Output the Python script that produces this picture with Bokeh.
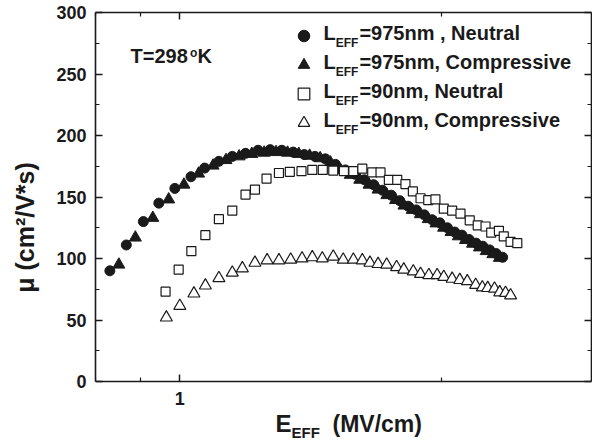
import math
from bokeh.plotting import figure
from bokeh.models import (LogAxis, LinearAxis, FixedTicker, Range1d, Label,
                          Legend, LegendItem)
from bokeh.embed import file_html
from bokeh.resources import INLINE

# ---------------- data ----------------
e_975_neutral = [0.831, 0.868, 0.908, 0.946, 0.987, 1.030, 1.068, 1.109, 1.149, 1.190,
                 1.23, 1.27, 1.31, 1.35, 1.39, 1.43, 1.47, 1.51, 1.55, 1.59,
                 1.63, 1.67, 1.71, 1.75, 1.79, 1.83, 1.87, 1.91, 1.95, 1.99,
                 2.03, 2.07, 2.11, 2.15, 2.19, 2.23, 2.27, 2.31, 2.35]
mu_975_neutral = [90, 111, 130, 145, 157, 166.5, 173.5, 179, 183, 185.5,
                  188, 188.5, 188, 186.5, 184.5, 183, 181, 176.5, 172, 168.5,
                  164, 160, 155.5, 151.5, 147, 142.5, 139.5, 135.5, 131.5, 129,
                  125, 121.5, 119, 115.5, 112.5, 110, 107, 104, 101]

e_975_comp = [0.851, 0.889, 0.931, 0.971, 1.011, 1.051, 1.092, 1.13, 1.17, 1.21,
              1.25, 1.29, 1.33, 1.37, 1.41, 1.45, 1.49, 1.53, 1.57, 1.61,
              1.65, 1.69, 1.73, 1.77, 1.81, 1.85, 1.89, 1.93, 1.97, 2.01,
              2.05, 2.09, 2.13, 2.17, 2.21, 2.25, 2.29, 2.33]
mu_975_comp = [95, 117, 133, 148, 160, 169, 175.5, 180, 183, 185,
               186, 186.5, 186, 185, 183.5, 181.5, 178, 172, 168, 164,
               160, 156, 151.5, 147.5, 143, 139.5, 136, 132, 128.5, 125,
               121.5, 118, 115, 112, 109, 106, 103.5, 100.5]

e_90_neutral = [0.963, 0.997, 1.031, 1.070, 1.109, 1.149, 1.190, 1.220, 1.258, 1.300,
                1.338, 1.380, 1.420, 1.460, 1.501, 1.544, 1.583, 1.621, 1.664, 1.701,
                1.739, 1.778, 1.817, 1.853, 1.891, 1.930, 1.967, 2.011, 2.056, 2.102,
                2.154, 2.200, 2.246, 2.280, 2.327, 2.357, 2.400, 2.443]
mu_90_neutral = [73, 91, 106, 119, 132, 139, 152, 156, 165, 169.5,
                 170.5, 171, 172, 172, 171.5, 171, 171, 173, 170, 170,
                 164, 164, 160.5, 154.5, 149, 147.5, 148, 140.5, 139, 136.5,
                 131, 127, 126, 121, 122.5, 118, 113.5, 112.5]

e_90_comp = [0.965, 1.000, 1.038, 1.070, 1.109, 1.149, 1.180, 1.220, 1.260, 1.300,
             1.341, 1.382, 1.420, 1.458, 1.501, 1.541, 1.583, 1.621, 1.654, 1.690,
             1.729, 1.775, 1.809, 1.855, 1.891, 1.933, 1.976, 2.011, 2.056, 2.098,
             2.140, 2.188, 2.227, 2.259, 2.300, 2.332, 2.368, 2.400]
mu_90_comp = [52, 61.5, 71.5, 78, 84, 88.5, 92, 96.5, 98.5, 98.5,
              99, 100, 101, 100, 101.5, 99, 99, 98.5, 96.5, 95.5,
              95, 93, 91, 89.5, 87.5, 86.5, 86.5, 85, 83.5, 82.5,
              81.5, 78.5, 76.5, 76, 75.5, 72.5, 72, 70]

series_names = ["=975nm , Neutral", "=975nm, Compressive", "=90nm, Neutral", "=90nm, Compressive"]
y_major_ticks = [0, 50, 100, 150, 200, 250, 300]
y_minor_ticks = [25, 75, 125, 175, 225, 275]
x_major_ticks = [1]
x_minor_ticks = [0.8, 0.9, 2, 3]
x_tick_labels = {1: "1"}
temperature_text = ["T=298", "o", "K"]
x_title = ["E", "EFF", "(MV/cm)"]
y_title = "μ (cm²/V*s)"

# ---------------- layout ----------------
W, H = 592, 442
BL, BR, BT = 95, 1, 12
AXIS_Y = 381                 # picture row of the x axis (mu = 0)
FW = W - BL - BR
FH = H - BT                  # frame reaches the bottom; x axis drawn at mu = 0
X0 = 0.8
DECADE = 870.0
X1 = 10 ** (math.log10(X0) + FW / DECADE)
Y1 = 300
PX_PER_UNIT = (AXIS_Y - BT) / Y1
Y0 = -(H - AXIS_Y) / PX_PER_UNIT
FONT = "Liberation Sans"
INK = "#1a1a1a"
BASELINE_FIX = 0.47          # renderer places alphabetic baseline lower by ~0.47 em

def dx(px):  # picture px -> data x
    return 10 ** (math.log10(X0) + (px - BL) / DECADE)

def dy(py):  # picture px -> data y
    return Y1 - (py - BT) / PX_PER_UNIT

p = figure(width=W, height=H, x_axis_type="log",
           x_range=Range1d(X0, X1), y_range=Range1d(Y0, Y1),
           output_backend="svg", toolbar_location=None,
           min_border_left=BL, min_border_right=BR, min_border_top=BT,
           min_border_bottom=0)
p.outline_line_color = None
p.grid.visible = False
p.background_fill_color = "white"
p.border_fill_color = "white"

def style_axis(ax, labels=True):
    ax.axis_line_color = INK
    ax.axis_line_width = 1.6
    ax.major_tick_line_color = INK
    ax.minor_tick_line_color = INK
    ax.major_tick_line_width = 1.5
    ax.minor_tick_line_width = 1.2
    ax.major_tick_in = 7
    ax.major_tick_out = 0
    ax.minor_tick_in = 4
    ax.minor_tick_out = 0
    ax.major_label_text_font = FONT
    ax.major_label_text_font_style = "bold"
    ax.major_label_text_color = INK
    if labels:
        ax.major_label_text_font_size = "18px"
    else:
        ax.major_label_text_font_size = "1px"
        ax.major_label_text_alpha = 0
        ax.major_label_standoff = 0

xt = FixedTicker(ticks=x_major_ticks, minor_ticks=x_minor_ticks)
yt = FixedTicker(ticks=y_major_ticks, minor_ticks=y_minor_ticks)

xa = p.xaxis[0]
xa.ticker = xt
style_axis(xa)
xa.major_label_standoff = 10
xa.major_label_overrides = x_tick_labels
xa.fixed_location = 0

ya = p.yaxis[0]
ya.ticker = yt
ya.bounds = (0, 300)
style_axis(ya)
ya.major_label_standoff = 9
ya.axis_label = y_title
ya.axis_label_text_font = FONT
ya.axis_label_text_font_style = "bold"
ya.axis_label_text_font_size = "25px"
ya.axis_label_text_color = INK
ya.axis_label_standoff = 14

top = LogAxis(ticker=xt)
style_axis(top, labels=False)
p.add_layout(top, "above")
right = LinearAxis(ticker=yt, bounds=(0, 300))
style_axis(right, labels=False)
p.add_layout(right, "right")

# ---------------- data marks ----------------
r1 = p.scatter(e_975_neutral, mu_975_neutral, marker="circle", size=10,
               fill_color=INK, line_color=INK)
r2 = p.scatter(e_975_comp, mu_975_comp, marker="triangle", size=12,
               fill_color=INK, line_color=INK)
r3 = p.scatter(e_90_neutral, mu_90_neutral, marker="square", size=9,
               fill_color="white", line_color=INK, line_width=1.2)
r4 = p.scatter(e_90_comp, mu_90_comp, marker="triangle", size=12,
               fill_color="white", line_color=INK, line_width=1.2)

# ---------------- legend (glyphs only; texts drawn as labels) ----------------
LEG_TOP = 20.5
legend = Legend(items=[LegendItem(label="L", renderers=[r]) for r in (r1, r2, r3, r4)],
                location=(193.5, H - (LEG_TOP + 4 * 29)), orientation="vertical",
                padding=0, margin=0, spacing=0, glyph_width=29, glyph_height=29,
                label_height=29, label_width=10, label_standoff=0,
                label_text_font_size="10px", label_text_alpha=0,
                border_line_color=None, background_fill_alpha=0)
p.add_layout(legend)

def lab(px, py, text, size, **kw):
    # py is the wanted baseline row in the picture
    p.add_layout(Label(x=dx(px), y=dy(py - BASELINE_FIX * size), text=text,
                       text_font=FONT, text_font_style="bold",
                       text_font_size=f"{size}px", text_color=INK,
                       text_baseline="alphabetic", text_align="left", **kw))

LS, SS = 20, 12
for i, name in enumerate(series_names):
    base = 42 + 29 * i
    xl = 323
    lab(xl, base, "L", LS)
    xs = xl + 0.611 * LS
    lab(xs, base + 6.5, "EFF", SS)
    lab(xs + 1.889 * SS + 1, base, name, LS)

# temperature
lab(130, 65, temperature_text[0], 20)
lab(189.5, 58, temperature_text[1], 12)
lab(197, 65, temperature_text[2], 20)

# x title
lab(275, 434, x_title[0], 24)
lab(275 + 0.667 * 24, 439, x_title[1], 15)
lab(332, 434, x_title[2], 23)

open("out.html", "w").write(file_html(p, INLINE))
